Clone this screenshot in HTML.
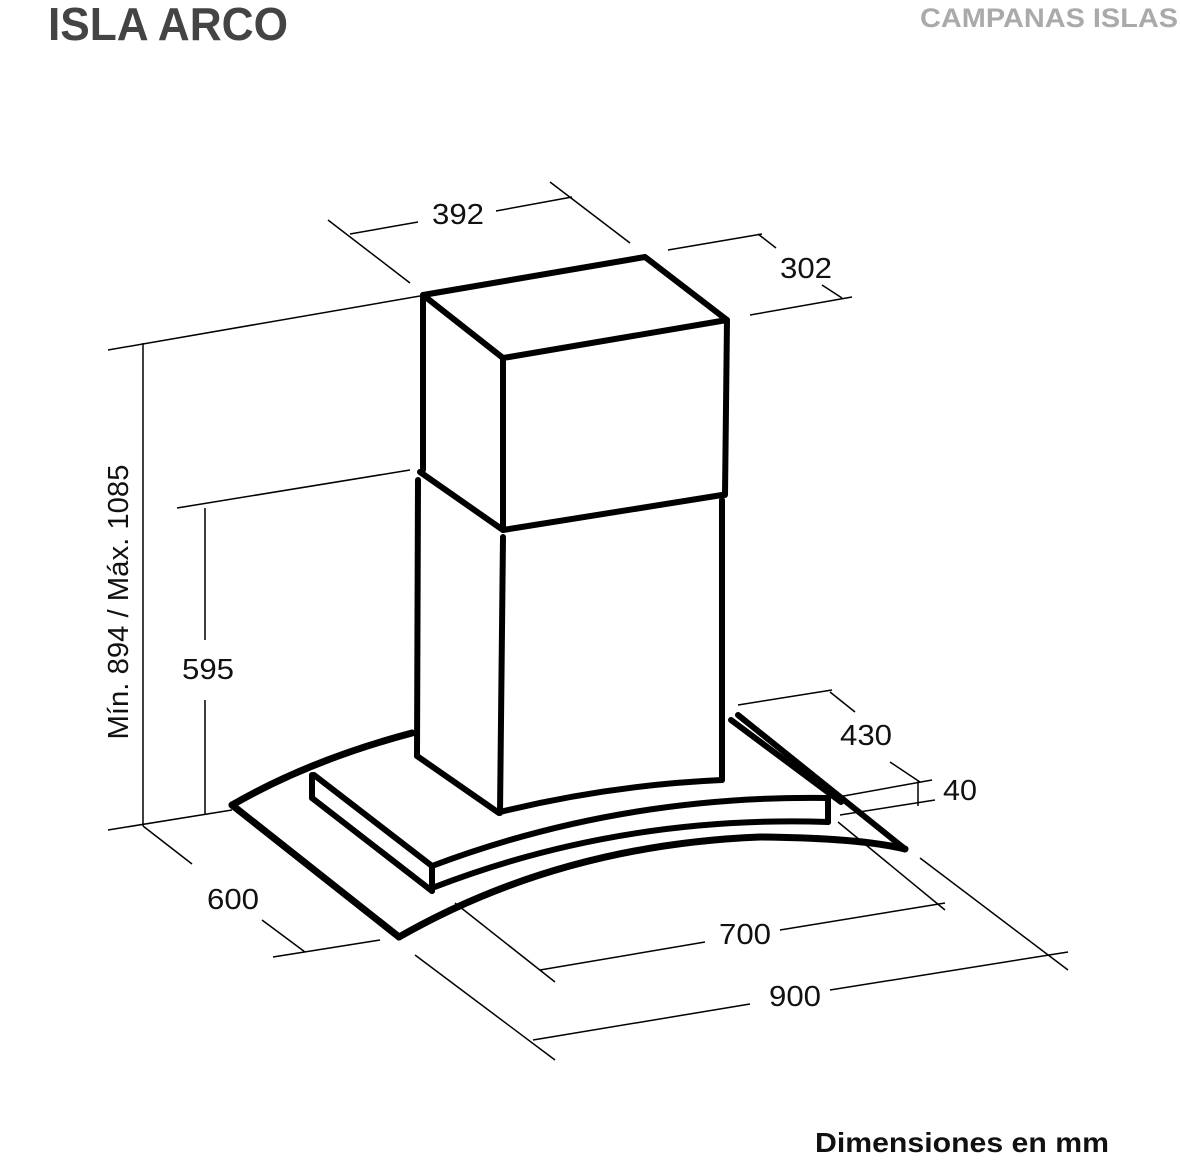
<!DOCTYPE html>
<html><head><meta charset="utf-8"><style>
html,body{margin:0;padding:0;background:#fff;}
svg{display:block;}
text{font-family:"Liberation Sans",sans-serif;}
</style></head><body>
<svg width="1181" height="1165" viewBox="0 0 1181 1165" xmlns="http://www.w3.org/2000/svg">
<text x="48" y="40" font-size="46" font-weight="bold" fill="#444" textLength="240" lengthAdjust="spacingAndGlyphs">ISLA ARCO</text>
<text x="920" y="27" font-size="27" font-weight="bold" fill="#aaa" textLength="258" lengthAdjust="spacingAndGlyphs">CAMPANAS ISLAS</text>
<text x="815" y="1152" font-size="28" font-weight="bold" fill="#111" textLength="294" lengthAdjust="spacingAndGlyphs">Dimensiones en mm</text>

<g stroke="#000" stroke-width="1.5" fill="none">
<line x1="328" y1="220" x2="410" y2="283"/><line x1="550" y1="182" x2="630" y2="243"/>
<line x1="350" y1="234" x2="418" y2="222"/><line x1="496" y1="211" x2="572" y2="197"/>
<line x1="668" y1="250" x2="762" y2="234"/><line x1="758" y1="234" x2="776" y2="248"/>
<line x1="822" y1="285" x2="842" y2="298"/>
<line x1="750" y1="315" x2="852" y2="297"/>
<line x1="108" y1="350" x2="420" y2="296"/><line x1="143" y1="343" x2="143" y2="826"/>
<line x1="108" y1="830" x2="232" y2="810"/>
<line x1="177" y1="508" x2="410" y2="470"/><line x1="205" y1="508" x2="205" y2="640"/>
<line x1="205" y1="700" x2="205" y2="815"/>
<line x1="738" y1="705" x2="832" y2="690"/><line x1="830" y1="692" x2="855" y2="712"/>
<line x1="890" y1="762" x2="920" y2="782"/>
<line x1="838" y1="797" x2="932" y2="780"/><line x1="918" y1="780" x2="918" y2="806"/>
<line x1="840" y1="815" x2="935" y2="800"/>
<line x1="143" y1="826" x2="192" y2="864"/><line x1="262" y1="920" x2="305" y2="952"/>
<line x1="273" y1="957" x2="380" y2="940"/>
<line x1="455" y1="903" x2="555" y2="982"/><line x1="838" y1="822" x2="945" y2="910"/>
<line x1="540" y1="970" x2="705" y2="942"/><line x1="780" y1="930" x2="945" y2="903"/>
<line x1="415" y1="955" x2="555" y2="1060"/><line x1="920" y1="858" x2="1068" y2="970"/>
<line x1="533" y1="1040" x2="750" y2="1004"/><line x1="830" y1="990" x2="1068" y2="952"/>
</g>

<g font-size="29" fill="#111" text-anchor="middle">
<text x="458" y="224" textLength="52" lengthAdjust="spacingAndGlyphs">392</text>
<text x="806" y="278" textLength="52" lengthAdjust="spacingAndGlyphs">302</text>
<text x="208" y="679" textLength="52" lengthAdjust="spacingAndGlyphs">595</text>
<text x="866" y="745" textLength="52" lengthAdjust="spacingAndGlyphs">430</text>
<text x="960" y="800" textLength="34" lengthAdjust="spacingAndGlyphs">40</text>
<text x="233" y="909" textLength="52" lengthAdjust="spacingAndGlyphs">600</text>
<text x="745" y="944" textLength="52" lengthAdjust="spacingAndGlyphs">700</text>
<text x="795" y="1006" textLength="52" lengthAdjust="spacingAndGlyphs">900</text>
<text transform="translate(128,602) rotate(-90)" textLength="275" lengthAdjust="spacingAndGlyphs">Mín. 894 / Máx. 1085</text>
</g>

<g stroke="#000" stroke-width="6" fill="none" stroke-linejoin="round" stroke-linecap="round">
<polygon points="423,295 645,257 727,320 503,358"/>
<line x1="423" y1="295" x2="423" y2="470"/>
<line x1="503" y1="358" x2="503" y2="530"/>
<line x1="727" y1="320" x2="725" y2="495"/>
<polyline points="420,472 503,530 722,495"/>
<line x1="418" y1="480" x2="417" y2="756"/>
<polyline points="417,756 499,813"/>
<line x1="503" y1="537" x2="500" y2="813"/>
<line x1="722" y1="500" x2="722" y2="780"/>
<path d="M500,812 Q610,785 722,780"/>
<path d="M412,733 Q310,760 232,805" stroke-width="7"/>
<polyline points="232,805 399,937" stroke-width="7"/>
<path d="M399,937 Q560,845 760,837 Q860,838 905,849" stroke-width="7"/>
<line x1="738" y1="715" x2="905" y2="849"/>
<line x1="731" y1="720" x2="841" y2="802"/>
<line x1="312" y1="775" x2="312" y2="798"/>
<line x1="314" y1="775" x2="432" y2="866"/>
<line x1="312" y1="798" x2="432" y2="891"/>
<line x1="432" y1="866" x2="432" y2="891"/>
<path d="M432,866 Q620,795 828,798"/>
<path d="M432,888 Q620,815 828,822"/>
<line x1="828" y1="798" x2="828" y2="822"/>
</g>
</svg>
</body></html>
